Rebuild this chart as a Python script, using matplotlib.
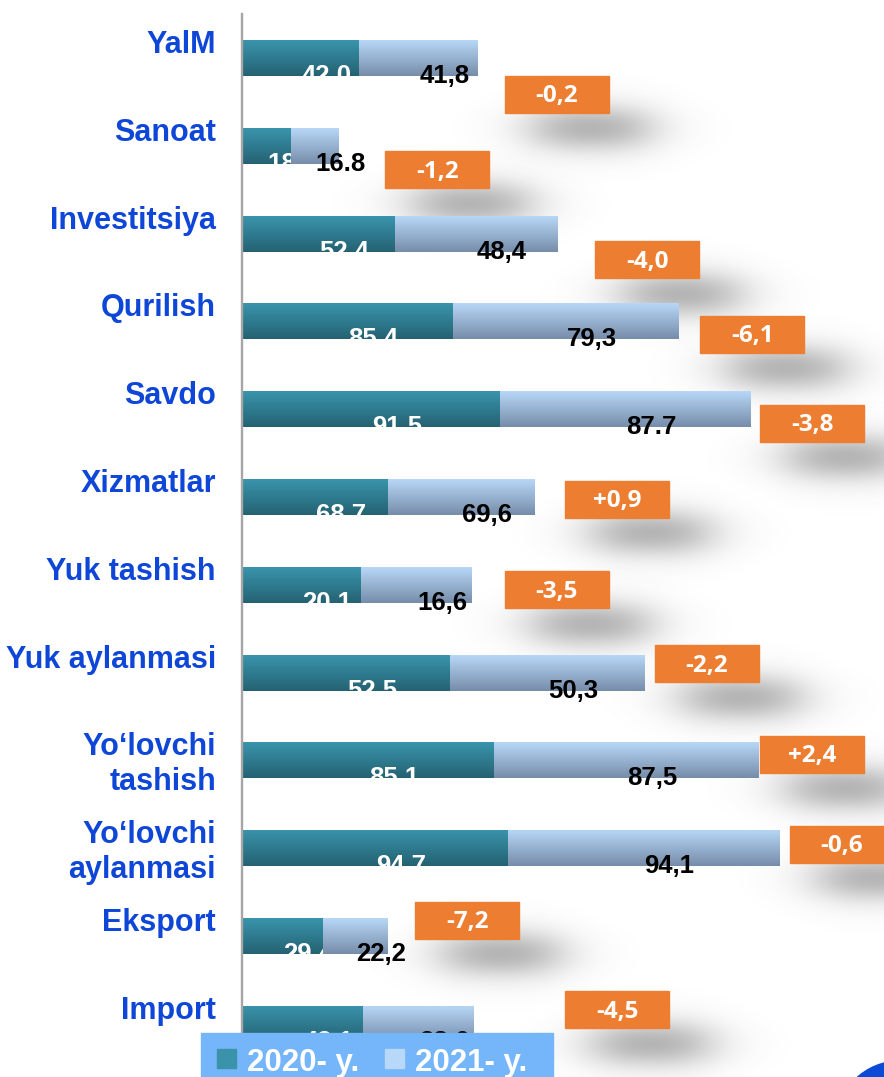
import numpy as np
import matplotlib
matplotlib.use("Agg")
import matplotlib.pyplot as plt
from matplotlib.patches import Rectangle, Circle

# ---------------- data ----------------
categories = ["YalM", "Sanoat", "Investitsiya", "Qurilish", "Savdo", "Xizmatlar",
              "Yuk tashish", "Yuk aylanmasi", "Yo\u2018lovchi\ntashish",
              "Yo\u2018lovchi\naylanmasi", "Eksport", "Import"]
# bar lengths as drawn in the picture
bar_2020 = [41.8, 17.5, 54.6, 75.4, 92.1, 52.1, 42.5, 74.3, 90.0, 95.0, 28.9, 43.2]
bar_2021 = [42.5, 17.1, 57.9, 80.4, 89.3, 52.5, 39.6, 69.6, 94.6, 96.8, 22.9, 39.3]
# printed value labels
label_2020 = ["42.0", "18", "52,4", "85,4", "91,5", "68,7", "20,1", "52,5", "85,1",
              "94,7", "29,4", "43,1"]
label_2021 = ["41,8", "16.8", "48,4", "79,3", "87.7", "69,6", "16,6", "50,3", "87,5",
              "94,1", "22,2", "38,6"]
change_labels = ["-0,2", "-1,2", "-4,0", "-6,1", "-3,8", "+0,9", "-3,5", "-2,2", "+2,4",
                 "-0,6", "-7,2", "-4,5"]
legend_labels = ["2020- y.", "2021- y."]

# ---------------- layout ----------------
box_left = [93.9, 51.1, 126.1, 163.6, 185.0, 115.4, 93.9, 147.5, 185.0, 195.7, 61.8, 115.4]
box_dy_px = [36, 24, 26, 13, 14, 2, 5, -9, -6, -4, -16, -14]

W, H = 884, 1077
X0, Y0 = 242, 58          # pixel of x=0, pixel of first category centre
PXU, PXR = 2.8, 87.8      # pixels per unit, pixels per row
TOP = 14

fig = plt.figure(figsize=(W / 100, H / 100), dpi=100)
ax = fig.add_axes([X0 / W, 0, 1 - X0 / W, 1 - TOP / H])
XL = (0, (W - X0) / PXU)
YL = ((H - Y0) / PXR, (TOP - Y0) / PXR)
ax.set_xlim(*XL)
ax.set_ylim(*YL)
for s in ["top", "right", "bottom"]:
    ax.spines[s].set_visible(False)
ax.spines["left"].set_color("#A6A6A6")
ax.spines["left"].set_linewidth(1.7)
ax.set_xticks([])
ax.set_yticks([])

dx = lambda p: p / PXU
dy = lambda p: p / PXR

n = len(categories)
y = np.arange(n)
bh = dy(36)

def grad(top, bot, N=64):
    t = np.linspace(0, 1, N)[:, None]
    top = np.array(top) / 255.0
    bot = np.array(bot) / 255.0
    return (top[None, :] * (1 - t) + bot[None, :] * t)[:, None, :]

g_teal = grad((58, 148, 172), (36, 98, 114))
g_light = grad((184, 215, 247), (118, 141, 170))

b1 = ax.barh(y, bar_2020, height=bh, color="#31879E", zorder=2)
b2 = ax.barh(y, bar_2021, left=bar_2020, height=bh, color="#9CBCE0", zorder=4)

for bars, g, z in [(b1, g_teal, 2.1), (b2, g_light, 4.1)]:
    for p in bars:
        x0, y0 = p.get_xy()
        w, h = p.get_width(), p.get_height()
        im = ax.imshow(g, extent=(x0, x0 + w, y0 + h, y0), aspect="auto",
                       zorder=z, interpolation="bilinear")
        im.set_clip_path(p)

valfont = dict(family="Liberation Sans", weight="bold", fontsize=18.5)
for i in range(n):
    base = y[i] + dy(18 + 7)
    w1 = bar_2020[i] * PXU
    c1 = bar_2020[i] / 2 + dx(min(26, 0.32 * w1))
    ax.text(c1, base, label_2020[i], color="white", ha="center", va="baseline",
            zorder=3, **valfont)
    c2 = bar_2020[i] + bar_2021[i] / 2 + dx(26)
    ax.text(c2, base, label_2021[i], color="black", ha="center", va="baseline",
            zorder=8, **valfont)

# change boxes with soft shadows
bw, bhh = dx(104), dy(37)
SX, SY = 170, 80
xs = np.linspace(-SX, SX, 341)
ys = np.linspace(-SY, SY, 161)
gx = 0.5 * (np.tanh((xs + 55) / 36) - np.tanh((xs - 55) / 36))
gy = 0.5 * (np.tanh((ys + 16) / 17) - np.tanh((ys - 16) / 17))
alpha = 0.62 * gy[:, None] * gx[None, :]
shadow = np.zeros((len(ys), len(xs), 4))
shadow[..., :3] = 0.3
shadow[..., 3] = alpha
for i in range(n):
    cy = y[i] + dy(box_dy_px[i])
    cx = box_left[i] + bw / 2
    sx, sy = cx + dx(34), cy + dy(34)
    ax.imshow(shadow, extent=(sx - dx(SX), sx + dx(SX), sy + dy(SY), sy - dy(SY)),
              aspect="auto", zorder=1, interpolation="bilinear")
    ax.add_patch(Rectangle((box_left[i], cy - bhh / 2), bw, bhh, color="#ED7D31",
                           zorder=6, clip_on=False))
    ax.text(cx, cy + dy(8), change_labels[i], color="white", ha="center",
            va="baseline", family="Open Sans", weight="bold", fontsize=17.5, zorder=7)

ax.set_xlim(*XL)
ax.set_ylim(*YL)

# ---------------- overlay (pixel coords) ----------------
ov = fig.add_axes([0, 0, 1, 1], zorder=10)
ov.set_xlim(0, W)
ov.set_ylim(H, 0)
ov.axis("off")
ov.patch.set_alpha(0)

catfont = dict(family="Liberation Sans", weight="bold", fontsize=22, color="#0E46D8")
for i, cat in enumerate(categories):
    py = Y0 + PXR * i
    for k, line in enumerate(cat.split("\n")):
        ov.text(216, py - 5 + 35 * k, line, ha="right", va="baseline", **catfont)

# legend
ov.add_patch(Rectangle((201, 1033), 352, 50, color="#74B6F9", zorder=1))
ov.add_patch(Rectangle((217, 1049), 19, 19, color="#3A93AB", zorder=2))
ov.add_patch(Rectangle((385, 1049), 19, 19, color="#B8D8FA", zorder=2))
legfont = dict(family="Liberation Sans", weight="bold", fontsize=22.5, color="white")
ov.text(247, 1071, legend_labels[0], ha="left", va="baseline", zorder=3, **legfont)
ov.text(415, 1071, legend_labels[1], ha="left", va="baseline", zorder=3, **legfont)

# decorative corner circle
ov.add_patch(Circle((900, 1125), 64, color="#0A4AD6", zorder=1))

fig.savefig("out.png", dpi=100)
